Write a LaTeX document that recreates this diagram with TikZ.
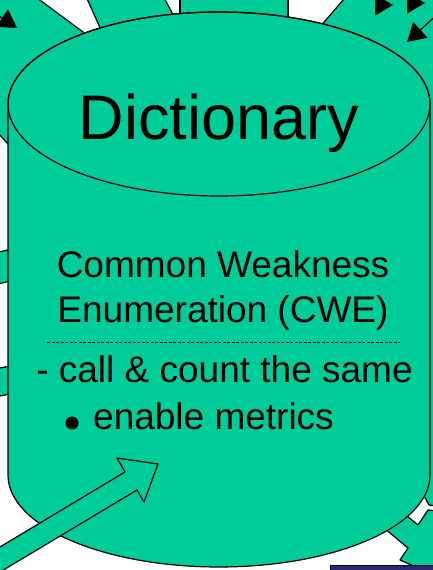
\documentclass[tikz,border=0pt]{standalone}
\usepackage{fontspec}
\setmainfont{Liberation Sans}
\usetikzlibrary{arrows.meta, positioning}
\definecolor{verde}{RGB}{0,204,153}
\definecolor{marino}{RGB}{40,40,120}

\begin{document}
\begin{tikzpicture}[x=1pt, y=1pt, line join=round,
  fondo/.style={fill=verde, draw=black, line width=1.2pt},
  conector/.style={-{Triangle[length=18pt, width=21pt]}, line width=1.2pt},
  texto/.style={inner sep=0pt, font=\fontsize{37}{44}\selectfont}]
  \clip (0,0) rectangle (433,570);

  % Flechas de fondo (cortadas por el borde)
  \draw[fondo] (29,578) -- (110,518) -- (60,367) -- (7,427) -- (-10,446) -- (-10,578) -- cycle;
  \draw[fondo] (84,578) -- (161,578) -- (185,533) -- (110,520) -- cycle;
  \draw[fondo] (180,578) rectangle (288,525);
  \draw[fondo] (350,578) -- (450,578) -- (450,62) -- (429,65) -- (410,100) -- (300,520) -- cycle;
  \draw[fondo] (378,47) -- (408,22) -- (400,10) -- (455,-15) -- (450,58) -- (428,60) -- (418,45) -- (395,64) -- cycle;
  \draw[fondo] (-10,316) -- (30,325) -- (30,294) -- (-10,284) -- cycle;
  \draw[fondo] (-10,200) -- (30,208) -- (30,180) -- (-10,172) -- cycle;
  \draw[fill=marino, draw=black, line width=1pt] (330,4) rectangle (450,-10);

  % Conectores
  \coordinate (c0a) at (-16,564);
  \coordinate (c0b) at (17,542);
  \coordinate (c1a) at (375.5,565);
  \coordinate (c1b) at (393,565);
  \coordinate (c2a) at (407.5,567);
  \coordinate (c2b) at (425,567);
  \coordinate (c3a) at (440,558);
  \coordinate (c3b) at (407,528);
  \draw[conector] (c0a) -- (c0b);
  \draw[conector] (c1a) -- (c1b);
  \draw[conector] (c2a) -- (c2b);
  \draw[conector] (c3a) -- (c3b);

  % Cilindro
  \draw[fondo] (8,466) -- (8,95) arc[start angle=180, end angle=360, x radius=211, y radius=92]
    -- (430,466) arc[start angle=0, end angle=180, x radius=211, y radius=92] -- cycle;
  \draw[line width=1.2pt] (219,466) ellipse[x radius=211, y radius=92];

  % Flecha de entrada
  \draw[fondo] (-20,11) -- (125,98) -- (117,112) -- (158,106) -- (144,68) -- (137,80) -- (-20,-14) -- cycle;

  % Textos
  \node[anchor=base, inner sep=0pt, font=\fontsize{63}{70}\selectfont] (dic) at (219,430) {Dictionary};
  \node[texto, anchor=base] (cwe1) at (223,292) {Common Weakness};
  \node[texto, anchor=base] (cwe2) at (223,247) {Enumeration (CWE)};
  \coordinate (sepa) at (47,228);
  \coordinate (sepb) at (400,228);
  \draw[line width=0.6pt, dash pattern=on 3pt off 1.5pt] (sepa) -- (sepb);
  \node[texto, anchor=base] (call) at (224.5,187) {- call \& count the same};
  \node[circle, fill=black, inner sep=0pt, minimum size=13pt] (vineta) at (72,147) {};
  \node[texto, anchor=base west] (metr) at (93,140) {enable metrics};
\end{tikzpicture}
\end{document}
